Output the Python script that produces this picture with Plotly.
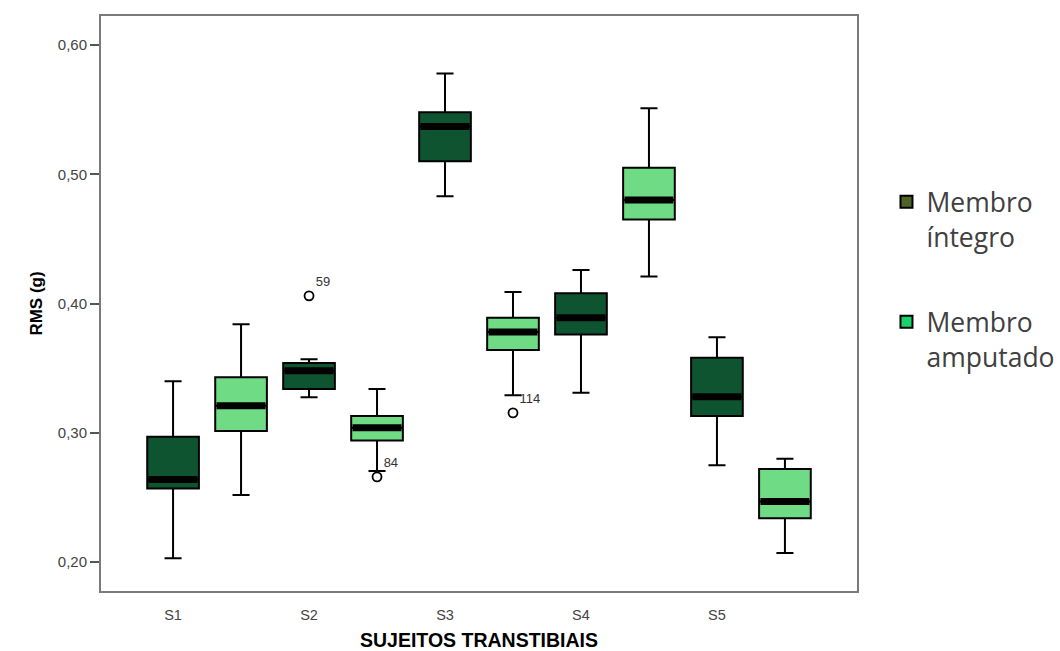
import plotly.graph_objects as go

# ---- data ----
subjects = ["S1", "S2", "S3", "S4", "S5"]
subject_pos = [1, 2, 3, 4, 5]

# Membro íntegro (dark boxes)
int_upper = [0.340, 0.357, 0.578, 0.426, 0.374]
int_q3 = [0.297, 0.354, 0.548, 0.408, 0.358]
int_med = [0.264, 0.348, 0.537, 0.389, 0.328]
int_q1 = [0.257, 0.334, 0.510, 0.376, 0.313]
int_lower = [0.203, 0.3275, 0.483, 0.331, 0.275]

# Membro amputado (light boxes)
amp_upper = [0.384, 0.334, 0.409, 0.551, 0.280]
amp_q3 = [0.343, 0.313, 0.389, 0.505, 0.272]
amp_med = [0.321, 0.304, 0.378, 0.480, 0.247]
amp_q1 = [0.3015, 0.294, 0.364, 0.465, 0.234]
amp_lower = [0.252, 0.2705, 0.329, 0.421, 0.207]

# outliers: (subject index, group, value, case label)
out_subject = [2, 2, 3]
out_group = ["int", "amp", "amp"]
out_value = [0.406, 0.266, 0.3155]
out_label = ["59", "84", "114"]

y_ticks = [0.20, 0.30, 0.40, 0.50, 0.60]

# ---- styling ----
DARK = "#0e5430"
LIGHT = "#6fdc85"
LEG_DARK = "#4f6228"
LEG_LIGHT = "#19d36a"
BOX_W = 0.38
AMP_OFFSET = 0.5

x_int = [p for p in subject_pos]
x_amp = [p + AMP_OFFSET for p in subject_pos]

fig = go.Figure()

fig.add_trace(go.Box(
    x=x_int, q1=int_q1, median=int_med, q3=int_q3,
    lowerfence=int_lower, upperfence=int_upper,
    width=BOX_W, whiskerwidth=0.33, boxpoints=False,
    fillcolor=DARK, line=dict(color="black", width=2),
    showlegend=False, hoverinfo="skip",
))
fig.add_trace(go.Box(
    x=x_amp, q1=amp_q1, median=amp_med, q3=amp_q3,
    lowerfence=amp_lower, upperfence=amp_upper,
    width=BOX_W, whiskerwidth=0.33, boxpoints=False,
    fillcolor=LIGHT, line=dict(color="black", width=2),
    showlegend=False, hoverinfo="skip",
))

# thick median bars
def med_segments(xs, meds):
    mx, my = [], []
    for x, m in zip(xs, meds):
        mx += [x - BOX_W / 2 + 0.01, x + BOX_W / 2 - 0.01, None]
        my += [m, m, None]
    return mx, my

for xs, meds in ((x_int, int_med), (x_amp, amp_med)):
    mx, my = med_segments(xs, meds)
    fig.add_trace(go.Scatter(x=mx, y=my, mode="lines",
                             line=dict(color="black", width=7),
                             showlegend=False, hoverinfo="skip"))

# outliers
ox = [s + (0 if g == "int" else AMP_OFFSET) for s, g in zip(out_subject, out_group)]
fig.add_trace(go.Scatter(
    x=ox, y=out_value, mode="markers+text",
    marker=dict(symbol="circle-open", size=9, color="black", line=dict(width=1.8)),
    text=out_label, textposition="top right",
    textfont=dict(family="Liberation Sans, Arial", size=13, color="#333333"),
    showlegend=False, hoverinfo="skip",
))

# legend entries
for name, col, grp in (("Membro<br>íntegro", LEG_DARK, "a"),
                       ("Membro<br>amputado", LEG_LIGHT, "b")):
    fig.add_trace(go.Scatter(
        x=[None], y=[None], mode="markers", name=name, legendgroup=grp,
        marker=dict(symbol="square", size=15, color=col,
                    line=dict(color="black", width=2.5)),
    ))

fig.update_layout(
    width=1060, height=651,
    margin=dict(l=101, r=203, t=16, b=60, autoexpand=False),
    paper_bgcolor="white", plot_bgcolor="white",
    separators=",.",
    boxmode="overlay",
    font=dict(family="Liberation Sans, Arial", color="#444444"),
    legend=dict(
        x=1.039, xanchor="left", y=0.718, yanchor="top",
        valign="top", traceorder="grouped", tracegroupgap=48,
        font=dict(family="Open Sans", size=26.5, color="#404040"),
        itemsizing="constant", bgcolor="rgba(0,0,0,0)",
    ),
    xaxis=dict(
        range=[0.47, 6.03], tickmode="array",
        tickvals=subject_pos, ticktext=subjects, ticks="",
        ticklabelstandoff=10, automargin=False,
        showgrid=False, zeroline=False,
        showline=True, mirror=True, linecolor="#7a7a7a", linewidth=2,
        tickfont=dict(size=14.5, color="#444444"),
        title=dict(text="<b>SUJEITOS TRANSTIBIAIS</b>", standoff=13,
                   font=dict(size=19.5, color="black")),
    ),
    yaxis=dict(
        range=[0.1777, 0.6224], tickmode="array", tickvals=y_ticks,
        tickformat=".2f", ticks="outside", ticklen=9, tickwidth=2, tickcolor="#555555",
        showgrid=False, zeroline=False, automargin=False,
        showline=True, mirror=True, linecolor="#7a7a7a", linewidth=2,
        tickfont=dict(size=15, color="#444444"),
        title=dict(text="<b>RMS (g)</b>", standoff=11,
                   font=dict(size=17, color="black")),
    ),
)

fig.write_html("out.html")
